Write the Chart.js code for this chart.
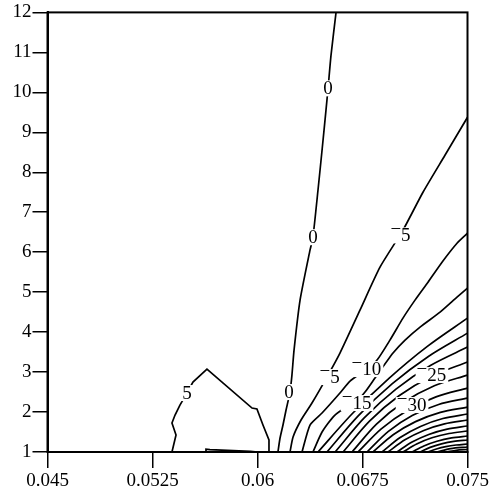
<!DOCTYPE html>
<html>
<head>
<meta charset="utf-8">
<script src="https://cdn.jsdelivr.net/npm/chart.js@4.4.1/dist/chart.umd.min.js"></script>
<style>
html, body { margin: 0; padding: 0; background: #fff; }
</style>
</head>
<body>
<canvas id="chart" width="500" height="495"></canvas>
<script>
// ticks
const xTicks = [0.045, 0.0525, 0.06, 0.0675, 0.075];
const xTickLabels = ['0.045', '0.0525', '0.06', '0.0675', '0.075'];
const yTicks = [1, 2, 3, 4, 5, 6, 7, 8, 9, 10, 11, 12];

// contour lines, [x, y]
const contour5 = [[0.05389,1.0],[0.05418,1.425],[0.05389,1.725],[0.05411,1.925],[0.05446,2.175],[0.05496,2.475],[0.05539,2.75],[0.05639,3.075],[0.05961,2.1],[0.05996,2.075],[0.06039,1.675],[0.06082,1.3],[0.06082,1.0]];
const contour5b = [[0.05625,1.0],[0.05632,1.07],[0.0566,1.06],[0.0595,1.015],[0.06,1.0]];
const contour0 = [[0.06146,1],[0.06161,1.35],[0.06182,1.675],[0.06204,2.05],[0.06232,2.5],[0.06246,2.925],[0.06261,3.55],[0.06304,4.8],[0.06375,6.05],[0.06396,6.375],[0.06432,7.55],[0.06461,8.55],[0.06489,9.55],[0.06504,10.1],[0.06525,10.925],[0.06561,12]];
const contourM5 = [[0.06232,1],[0.06254,1.375],[0.06311,1.8],[0.06389,2.225],[0.06496,2.875],[0.06589,3.475],[0.06732,4.55],[0.06875,5.625],[0.07039,6.55],[0.07182,7.5],[0.07339,8.425],[0.075,9.375]];
const contourM10 = [[0.06318,1],[0.06375,1.675],[0.06461,1.975],[0.06589,2.475],[0.06661,2.775],[0.06782,3.075],[0.06854,3.3],[0.06946,3.8],[0.07039,4.35],[0.07125,4.8],[0.07218,5.25],[0.07318,5.75],[0.07425,6.225],[0.075,6.475]];
const contourM15 = [[0.06396,1],[0.06461,1.5],[0.06546,1.9],[0.06646,2.15],[0.06696,2.225],[0.06768,2.5],[0.06839,2.85],[0.06968,3.475],[0.07054,3.8],[0.07161,4.125],[0.07304,4.5],[0.07425,4.875],[0.075,5.1]];
// the tight fan in the lower right corner
const fanLines = [
  [[0.06432,1],[0.06678,1.9625],[0.06939,2.8425],[0.07211,3.6375],[0.075,4.35]],
  [[0.06496,1],[0.06721,1.91],[0.06963,2.71],[0.07223,3.3975],[0.075,3.975]],
  [[0.06554,1],[0.06762,1.8525],[0.06989,2.575],[0.07235,3.165],[0.075,3.625]],
  [[0.06611,1],[0.068,1.7725],[0.07011,2.406],[0.07244,2.8975],[0.075,3.25]],
  [[0.06675,1],[0.0685,1.6975],[0.07046,2.25],[0.07263,2.66],[0.075,2.925]],
  [[0.06718,1],[0.06884,1.58],[0.0707,2.04],[0.07275,2.38],[0.075,2.6]],
  [[0.06782,1],[0.06935,1.515],[0.07105,1.9125],[0.07294,2.19],[0.075,2.35]],
  [[0.06825,1],[0.06969,1.43],[0.07129,1.76],[0.07306,1.9925],[0.075,2.125]],
  [[0.06889,1],[0.07019,1.3625],[0.07164,1.64],[0.07324,1.8375],[0.075,1.95]],
  [[0.06932,1],[0.07053,1.305],[0.07188,1.54],[0.07336,1.705],[0.075,1.8]],
  [[0.06996,1],[0.07104,1.2475],[0.07223,1.439],[0.07355,1.5725],[0.075,1.65]],
  [[0.07039,1],[0.07137,1.2],[0.07246,1.355],[0.07368,1.4625],[0.075,1.525]],
  [[0.07104,1],[0.07188,1.1525],[0.07282,1.27],[0.07386,1.3525],[0.075,1.4]],
  [[0.07161,1],[0.07233,1.115],[0.07314,1.2025],[0.07402,1.265],[0.075,1.3]],
  [[0.07218,1],[0.07278,1.07625],[0.07345,1.135],[0.07419,1.175],[0.075,1.2]],
  [[0.07282,1],[0.0738,1.085],[0.075,1.125]],
  [[0.07354,1],[0.07419,1.0425],[0.075,1.0625]]
];

// inline contour labels
const labelTexts = ['5', '0', '0', '0', '-5', '-5', '-10', '-15', '-25', '-30'];
const labelX = [0.05496, 0.06504, 0.06396, 0.06225, 0.07025, 0.06518, 0.06782, 0.06711, 0.07246, 0.07104];
const labelY = [2.475, 10.1, 6.375, 2.5, 6.42, 2.875, 3.075, 2.225, 2.925, 2.175];

const serif = '"Liberation Serif", "Times New Roman", serif';

function lineSet(pts, tension) {
    return {
        data: pts.map(p => ({ x: p[0], y: p[1] })),
        borderColor: '#000',
        borderWidth: 1.7,
        pointRadius: 0,
        fill: false,
        tension: tension
    };
}

const datasets = [
    lineSet(contour5, 0),
    lineSet(contour5b, 0),
    lineSet(contour0, 0.2),
    lineSet(contourM5, 0.2),
    lineSet(contourM10, 0.2),
    lineSet(contourM15, 0.2)
].concat(fanLines.map(l => lineSet(l, 0.3)));

// box round the plot
const frame = {
    id: 'frame',
    afterDraw(chart) {
        const { ctx, chartArea: a } = chart;
        ctx.save();
        ctx.strokeStyle = '#000';
        ctx.lineWidth = 2;
        ctx.strokeRect(a.left, a.top, a.right - a.left, a.bottom - a.top);
        ctx.restore();
    }
};

const contourLabels = {
    id: 'contourLabels',
    afterDatasetsDraw(chart) {
        const { ctx, scales: { x, y } } = chart;
        ctx.save();
        ctx.font = '19px ' + serif;
        ctx.textBaseline = 'middle';
        ctx.textAlign = 'left';
        labelTexts.forEach((t, i) => {
            const px = x.getPixelForValue(labelX[i]);
            const py = y.getPixelForValue(labelY[i]);
            const neg = t.charAt(0) === '-';
            const num = neg ? t.slice(1) : t;
            const dashW = neg ? ctx.measureText('\u2212').width - 1 : 0;
            const w = ctx.measureText(num).width + dashW;
            ctx.fillStyle = '#fff';
            ctx.fillRect(px - w / 2 - 2, py - 8, w + 4, 16);
            ctx.fillStyle = '#000';
            if (neg) ctx.fillText('\u2212', px - w / 2 - 1, py - 5);
            ctx.fillText(num, px - w / 2 + dashW, py + 1);
        });
        ctx.restore();
    }
};

new Chart(document.getElementById('chart'), {
    type: 'line',
    data: { datasets },
    options: {
        responsive: false,
        animation: false,
        layout: { padding: { top: 12, right: 32.5, left: 0, bottom: 0 } },
        plugins: { legend: { display: false }, tooltip: { enabled: false } },
        scales: {
            x: {
                type: 'linear',
                min: 0.045,
                max: 0.075,
                afterBuildTicks: s => { s.ticks = xTicks.map(v => ({ value: v })); },
                afterFit: s => { s.height = 43; },
                ticks: {
                    callback: (v, i) => xTickLabels[i],
                    font: { family: serif, size: 19 },
                    color: '#000',
                    padding: 2,
                    maxRotation: 0,
                    autoSkip: false
                },
                grid: { drawOnChartArea: false, tickLength: 16, color: '#000', lineWidth: 1.5 },
                border: { color: '#000', width: 2 }
            },
            y: {
                type: 'linear',
                min: 1,
                max: 12,
                afterBuildTicks: s => { s.ticks = yTicks.map(v => ({ value: v })); },
                afterFit: s => { s.width = 47.5; },
                ticks: {
                    callback: v => String(v),
                    font: { family: serif, size: 19 },
                    color: '#000',
                    padding: 1,
                    autoSkip: false
                },
                grid: { drawOnChartArea: false, tickLength: 15, color: '#000', lineWidth: 1.5 },
                border: { color: '#000', width: 2 }
            }
        }
    },
    plugins: [frame, contourLabels]
});
</script>
</body>
</html>
